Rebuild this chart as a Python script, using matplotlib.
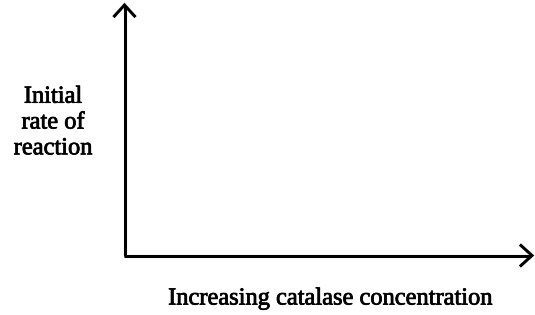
import matplotlib
matplotlib.use("Agg")
import matplotlib.pyplot as plt
import matplotlib.patheffects as pe

x_label = "Increasing catalase concentration"
y_label = "Initial\nrate of\nreaction"

W, H = 535, 315
fig = plt.figure(figsize=(W / 100, H / 100), dpi=100)
ax = fig.add_axes([0, 0, 1, 1])
ax.set_xlim(0, W)
ax.set_ylim(H, 0)
ax.axis("off")

ox, oy = 124.5, 255.5
ytip, xtip = 5, 532
lw = 2.2
# axes lines
ax.plot([ox, ox], [oy, ytip + 1], color="black", lw=lw, solid_capstyle="butt")
ax.plot([ox - 1, xtip - 1], [oy, oy], color="black", lw=lw, solid_capstyle="butt")
# arrowheads (open chevrons)
ax.plot([ox - 10, ox, ox + 10], [ytip + 11, ytip, ytip + 11], color="black", lw=lw,
        solid_joinstyle="miter")
ax.plot([xtip - 11, xtip, xtip - 11], [oy - 10, oy, oy + 10], color="black", lw=lw,
        solid_joinstyle="miter")

thick = [pe.withStroke(linewidth=0.55, foreground="black")]
ax.text(53, 123, y_label, ha="center", va="center", fontsize=17.6,
        family="Liberation Serif", linespacing=1.3, path_effects=thick)
ax.text(330, 299, x_label, ha="center", va="center", fontsize=17.6,
        family="Liberation Serif", path_effects=thick)

fig.savefig("out.png", dpi=100)
